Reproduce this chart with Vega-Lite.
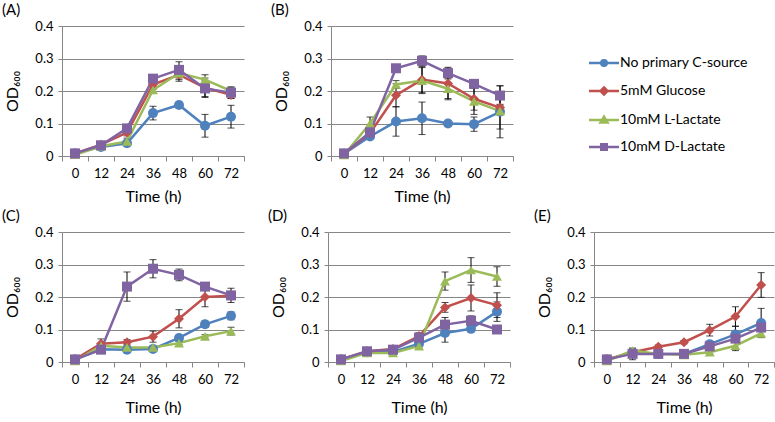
{
  "$schema": "https://vega.github.io/schema/vega-lite/v6.json",
  "padding": {"left": 2, "top": 3, "right": 0, "bottom": 0},
  "data": {"values": [
    {"p":"A","s":"No primary C-source","t":0,"v":0.008,"e":0},
    {"p":"A","s":"No primary C-source","t":12,"v":0.028,"e":0.005},
    {"p":"A","s":"No primary C-source","t":24,"v":0.039,"e":0.005},
    {"p":"A","s":"No primary C-source","t":36,"v":0.132,"e":0.021},
    {"p":"A","s":"No primary C-source","t":48,"v":0.157,"e":0.008},
    {"p":"A","s":"No primary C-source","t":60,"v":0.093,"e":0.035},
    {"p":"A","s":"No primary C-source","t":72,"v":0.121,"e":0.035},
    {"p":"A","s":"5mM Glucose","t":0,"v":0.008,"e":0},
    {"p":"A","s":"5mM Glucose","t":12,"v":0.035,"e":0.005},
    {"p":"A","s":"5mM Glucose","t":24,"v":0.072,"e":0.01},
    {"p":"A","s":"5mM Glucose","t":36,"v":0.22,"e":0.015},
    {"p":"A","s":"5mM Glucose","t":48,"v":0.25,"e":0.02},
    {"p":"A","s":"5mM Glucose","t":60,"v":0.21,"e":0.03},
    {"p":"A","s":"5mM Glucose","t":72,"v":0.188,"e":0.01},
    {"p":"A","s":"10mM L-Lactate","t":0,"v":0.004,"e":0},
    {"p":"A","s":"10mM L-Lactate","t":12,"v":0.03,"e":0.005},
    {"p":"A","s":"10mM L-Lactate","t":24,"v":0.045,"e":0.01},
    {"p":"A","s":"10mM L-Lactate","t":36,"v":0.203,"e":0.01},
    {"p":"A","s":"10mM L-Lactate","t":48,"v":0.255,"e":0.02},
    {"p":"A","s":"10mM L-Lactate","t":60,"v":0.235,"e":0.015},
    {"p":"A","s":"10mM L-Lactate","t":72,"v":0.2,"e":0.01},
    {"p":"A","s":"10mM D-Lactate","t":0,"v":0.008,"e":0},
    {"p":"A","s":"10mM D-Lactate","t":12,"v":0.033,"e":0.005},
    {"p":"A","s":"10mM D-Lactate","t":24,"v":0.085,"e":0.008},
    {"p":"A","s":"10mM D-Lactate","t":36,"v":0.238,"e":0.008},
    {"p":"A","s":"10mM D-Lactate","t":48,"v":0.265,"e":0.025},
    {"p":"A","s":"10mM D-Lactate","t":60,"v":0.208,"e":0.025},
    {"p":"A","s":"10mM D-Lactate","t":72,"v":0.195,"e":0.018},

    {"p":"B","s":"No primary C-source","t":0,"v":0.007,"e":0},
    {"p":"B","s":"No primary C-source","t":12,"v":0.06,"e":0.005},
    {"p":"B","s":"No primary C-source","t":24,"v":0.106,"e":0.045},
    {"p":"B","s":"No primary C-source","t":36,"v":0.116,"e":0.05},
    {"p":"B","s":"No primary C-source","t":48,"v":0.1,"e":0.005},
    {"p":"B","s":"No primary C-source","t":60,"v":0.098,"e":0.022},
    {"p":"B","s":"No primary C-source","t":72,"v":0.136,"e":0.08},
    {"p":"B","s":"5mM Glucose","t":0,"v":0.007,"e":0},
    {"p":"B","s":"5mM Glucose","t":12,"v":0.07,"e":0.01},
    {"p":"B","s":"5mM Glucose","t":24,"v":0.187,"e":0.035},
    {"p":"B","s":"5mM Glucose","t":36,"v":0.235,"e":0.04},
    {"p":"B","s":"5mM Glucose","t":48,"v":0.223,"e":0.05},
    {"p":"B","s":"5mM Glucose","t":60,"v":0.176,"e":0.035},
    {"p":"B","s":"5mM Glucose","t":72,"v":0.149,"e":0.01},
    {"p":"B","s":"10mM L-Lactate","t":0,"v":0.003,"e":0},
    {"p":"B","s":"10mM L-Lactate","t":12,"v":0.1,"e":0.02},
    {"p":"B","s":"10mM L-Lactate","t":24,"v":0.22,"e":0.012},
    {"p":"B","s":"10mM L-Lactate","t":36,"v":0.232,"e":0.04},
    {"p":"B","s":"10mM L-Lactate","t":48,"v":0.207,"e":0.03},
    {"p":"B","s":"10mM L-Lactate","t":60,"v":0.168,"e":0.04},
    {"p":"B","s":"10mM L-Lactate","t":72,"v":0.138,"e":0.055},
    {"p":"B","s":"10mM D-Lactate","t":0,"v":0.008,"e":0},
    {"p":"B","s":"10mM D-Lactate","t":12,"v":0.073,"e":0.005},
    {"p":"B","s":"10mM D-Lactate","t":24,"v":0.27,"e":0.005},
    {"p":"B","s":"10mM D-Lactate","t":36,"v":0.293,"e":0.015},
    {"p":"B","s":"10mM D-Lactate","t":48,"v":0.255,"e":0.015},
    {"p":"B","s":"10mM D-Lactate","t":60,"v":0.222,"e":0.01},
    {"p":"B","s":"10mM D-Lactate","t":72,"v":0.186,"e":0.03},

    {"p":"C","s":"No primary C-source","t":0,"v":0.008,"e":0},
    {"p":"C","s":"No primary C-source","t":12,"v":0.039,"e":0.003},
    {"p":"C","s":"No primary C-source","t":24,"v":0.038,"e":0.005},
    {"p":"C","s":"No primary C-source","t":36,"v":0.04,"e":0.005},
    {"p":"C","s":"No primary C-source","t":48,"v":0.074,"e":0.008},
    {"p":"C","s":"No primary C-source","t":60,"v":0.116,"e":0.01},
    {"p":"C","s":"No primary C-source","t":72,"v":0.142,"e":0.012},
    {"p":"C","s":"5mM Glucose","t":0,"v":0.008,"e":0},
    {"p":"C","s":"5mM Glucose","t":12,"v":0.056,"e":0.015},
    {"p":"C","s":"5mM Glucose","t":24,"v":0.061,"e":0.008},
    {"p":"C","s":"5mM Glucose","t":36,"v":0.078,"e":0.017},
    {"p":"C","s":"5mM Glucose","t":48,"v":0.133,"e":0.028},
    {"p":"C","s":"5mM Glucose","t":60,"v":0.2,"e":0.03},
    {"p":"C","s":"5mM Glucose","t":72,"v":0.204,"e":0.012},
    {"p":"C","s":"10mM L-Lactate","t":0,"v":0.003,"e":0},
    {"p":"C","s":"10mM L-Lactate","t":12,"v":0.05,"e":0.005},
    {"p":"C","s":"10mM L-Lactate","t":24,"v":0.045,"e":0.005},
    {"p":"C","s":"10mM L-Lactate","t":36,"v":0.045,"e":0.005},
    {"p":"C","s":"10mM L-Lactate","t":48,"v":0.058,"e":0.005},
    {"p":"C","s":"10mM L-Lactate","t":60,"v":0.079,"e":0.005},
    {"p":"C","s":"10mM L-Lactate","t":72,"v":0.095,"e":0.012},
    {"p":"C","s":"10mM D-Lactate","t":0,"v":0.008,"e":0},
    {"p":"C","s":"10mM D-Lactate","t":12,"v":0.038,"e":0.005},
    {"p":"C","s":"10mM D-Lactate","t":24,"v":0.232,"e":0.045},
    {"p":"C","s":"10mM D-Lactate","t":36,"v":0.287,"e":0.028},
    {"p":"C","s":"10mM D-Lactate","t":48,"v":0.268,"e":0.018},
    {"p":"C","s":"10mM D-Lactate","t":60,"v":0.232,"e":0.005},
    {"p":"C","s":"10mM D-Lactate","t":72,"v":0.205,"e":0.022},

    {"p":"D","s":"No primary C-source","t":0,"v":0.008,"e":0},
    {"p":"D","s":"No primary C-source","t":12,"v":0.03,"e":0.003},
    {"p":"D","s":"No primary C-source","t":24,"v":0.031,"e":0.003},
    {"p":"D","s":"No primary C-source","t":36,"v":0.056,"e":0.008},
    {"p":"D","s":"No primary C-source","t":48,"v":0.089,"e":0.028},
    {"p":"D","s":"No primary C-source","t":60,"v":0.102,"e":0.005},
    {"p":"D","s":"No primary C-source","t":72,"v":0.155,"e":0.03},
    {"p":"D","s":"5mM Glucose","t":0,"v":0.008,"e":0},
    {"p":"D","s":"5mM Glucose","t":12,"v":0.033,"e":0.003},
    {"p":"D","s":"5mM Glucose","t":24,"v":0.04,"e":0.005},
    {"p":"D","s":"5mM Glucose","t":36,"v":0.08,"e":0.01},
    {"p":"D","s":"5mM Glucose","t":48,"v":0.168,"e":0.015},
    {"p":"D","s":"5mM Glucose","t":60,"v":0.197,"e":0.04},
    {"p":"D","s":"5mM Glucose","t":72,"v":0.175,"e":0.038},
    {"p":"D","s":"10mM L-Lactate","t":0,"v":0.003,"e":0},
    {"p":"D","s":"10mM L-Lactate","t":12,"v":0.028,"e":0.003},
    {"p":"D","s":"10mM L-Lactate","t":24,"v":0.028,"e":0.003},
    {"p":"D","s":"10mM L-Lactate","t":36,"v":0.049,"e":0.01},
    {"p":"D","s":"10mM L-Lactate","t":48,"v":0.249,"e":0.028},
    {"p":"D","s":"10mM L-Lactate","t":60,"v":0.283,"e":0.038},
    {"p":"D","s":"10mM L-Lactate","t":72,"v":0.263,"e":0.03},
    {"p":"D","s":"10mM D-Lactate","t":0,"v":0.008,"e":0},
    {"p":"D","s":"10mM D-Lactate","t":12,"v":0.033,"e":0.003},
    {"p":"D","s":"10mM D-Lactate","t":24,"v":0.038,"e":0.003},
    {"p":"D","s":"10mM D-Lactate","t":36,"v":0.075,"e":0.01},
    {"p":"D","s":"10mM D-Lactate","t":48,"v":0.115,"e":0.022},
    {"p":"D","s":"10mM D-Lactate","t":60,"v":0.127,"e":0.015},
    {"p":"D","s":"10mM D-Lactate","t":72,"v":0.1,"e":0.005},

    {"p":"E","s":"No primary C-source","t":0,"v":0.008,"e":0},
    {"p":"E","s":"No primary C-source","t":12,"v":0.028,"e":0.005},
    {"p":"E","s":"No primary C-source","t":24,"v":0.025,"e":0.003},
    {"p":"E","s":"No primary C-source","t":36,"v":0.025,"e":0.003},
    {"p":"E","s":"No primary C-source","t":48,"v":0.055,"e":0.008},
    {"p":"E","s":"No primary C-source","t":60,"v":0.085,"e":0.025},
    {"p":"E","s":"No primary C-source","t":72,"v":0.12,"e":0.045},
    {"p":"E","s":"5mM Glucose","t":0,"v":0.008,"e":0},
    {"p":"E","s":"5mM Glucose","t":12,"v":0.03,"e":0.005},
    {"p":"E","s":"5mM Glucose","t":24,"v":0.047,"e":0.005},
    {"p":"E","s":"5mM Glucose","t":36,"v":0.061,"e":0.005},
    {"p":"E","s":"5mM Glucose","t":48,"v":0.098,"e":0.018},
    {"p":"E","s":"5mM Glucose","t":60,"v":0.14,"e":0.03},
    {"p":"E","s":"5mM Glucose","t":72,"v":0.237,"e":0.038},
    {"p":"E","s":"10mM L-Lactate","t":0,"v":0.003,"e":0},
    {"p":"E","s":"10mM L-Lactate","t":12,"v":0.035,"e":0.005},
    {"p":"E","s":"10mM L-Lactate","t":24,"v":0.025,"e":0.003},
    {"p":"E","s":"10mM L-Lactate","t":36,"v":0.022,"e":0.003},
    {"p":"E","s":"10mM L-Lactate","t":48,"v":0.03,"e":0.005},
    {"p":"E","s":"10mM L-Lactate","t":60,"v":0.05,"e":0.015},
    {"p":"E","s":"10mM L-Lactate","t":72,"v":0.088,"e":0.01},
    {"p":"E","s":"10mM D-Lactate","t":0,"v":0.008,"e":0},
    {"p":"E","s":"10mM D-Lactate","t":12,"v":0.025,"e":0.018},
    {"p":"E","s":"10mM D-Lactate","t":24,"v":0.025,"e":0.003},
    {"p":"E","s":"10mM D-Lactate","t":36,"v":0.025,"e":0.003},
    {"p":"E","s":"10mM D-Lactate","t":48,"v":0.048,"e":0.005},
    {"p":"E","s":"10mM D-Lactate","t":60,"v":0.072,"e":0.01},
    {"p":"E","s":"10mM D-Lactate","t":72,"v":0.106,"e":0.01}
  ]},
  "spacing": 5,
  "vconcat": [
    {
      "hconcat": [
        {
          "title": "(A)", "width": 182, "height": 130,
          "transform": [{"filter": "datum.p === 'A'"}],
          "encoding": {
            "x": {"field": "t", "type": "ordinal", "scale": {"type": "band", "paddingInner": 0, "paddingOuter": 0}, "axis": {"title": "Time (h)", "tickBand": "extent"}},
            "y": {"field": "v", "type": "quantitative", "scale": {"domain": [0, 0.4], "nice": false}, "axis": {"title": "OD₆₀₀", "values": [0, 0.1, 0.2, 0.3, 0.4], "format": "~g"}}
          },
          "layer": [
            {"transform": [{"filter": "datum.e > 0"}], "mark": {"type": "errorbar", "ticks": {"size": 7, "color": "black", "thickness": 1}, "rule": {"color": "black", "strokeWidth": 1}}, "encoding": {"yError": {"field": "e"}}},
            {"mark": {"type": "line", "strokeWidth": 2.5}, "encoding": {"color": {"field": "s", "type": "nominal", "scale": {"domain": ["No primary C-source", "5mM Glucose", "10mM L-Lactate", "10mM D-Lactate"], "range": ["#4F81BD", "#C0504D", "#9BBB59", "#8064A2"]},
              "legend": {"title": null, "orient": "none", "legendX": 535, "legendY": 30, "labelFont": "Lato", "labelFontSize": 14, "labelColor": "#000", "labelOffset": 9, "rowPadding": 11, "symbolSize": 100, "symbolStrokeWidth": 2.5,
                "encode": {"symbols": {"update": {
                  "shape": {"signal": "datum.value == 'No primary C-source' ? 'M-3,0H3M-0.55,0A0.55,0.55,0,1,0,0.55,0A0.55,0.55,0,1,0,-0.55,0Z' : datum.value == '5mM Glucose' ? 'M-3,0H3M0,-0.7L0.7,0L0,0.7L-0.7,0Z' : datum.value == '10mM L-Lactate' ? 'M-3,0H3M0,-0.65L0.7,0.5L-0.7,0.5Z' : 'M-3,0H3M-0.55,-0.55H0.55V0.55H-0.55Z'"},
                  "fill": {"scale": "color", "field": "value"},
                  "stroke": {"scale": "color", "field": "value"},
                  "strokeWidth": {"value": 2.5},
                  "opacity": {"value": 1}
                }}}}}}},
            {"mark": {"type": "point", "filled": true, "size": 100, "opacity": 1}, "encoding": {"color": {"field": "s", "type": "nominal"},
              "shape": {"field": "s", "type": "nominal", "scale": {"domain": ["10mM D-Lactate", "10mM L-Lactate", "5mM Glucose", "No primary C-source"], "range": ["square", "triangle-up", "diamond", "circle"]}, "legend": null}}}
          ]
        },
        {
          "title": "(B)", "width": 182, "height": 130,
          "transform": [{"filter": "datum.p === 'B'"}],
          "encoding": {
            "x": {"field": "t", "type": "ordinal", "scale": {"type": "band", "paddingInner": 0, "paddingOuter": 0}, "axis": {"title": "Time (h)", "tickBand": "extent"}},
            "y": {"field": "v", "type": "quantitative", "scale": {"domain": [0, 0.4], "nice": false}, "axis": {"title": "OD₆₀₀", "values": [0, 0.1, 0.2, 0.3, 0.4], "format": "~g"}}
          },
          "layer": [
            {"transform": [{"filter": "datum.e > 0"}], "mark": {"type": "errorbar", "ticks": {"size": 7, "color": "black", "thickness": 1}, "rule": {"color": "black", "strokeWidth": 1}}, "encoding": {"yError": {"field": "e"}}},
            {"mark": {"type": "line", "strokeWidth": 2.5}, "encoding": {"color": {"field": "s", "type": "nominal"}}},
            {"mark": {"type": "point", "filled": true, "size": 100, "opacity": 1}, "encoding": {"color": {"field": "s", "type": "nominal"}, "shape": {"field": "s", "type": "nominal", "legend": null}}}
          ]
        }
      ],
      "spacing": 87, "bounds": "flush"
    },
    {
      "hconcat": [
        {
          "title": "(C)", "width": 182, "height": 130,
          "transform": [{"filter": "datum.p === 'C'"}],
          "encoding": {
            "x": {"field": "t", "type": "ordinal", "scale": {"type": "band", "paddingInner": 0, "paddingOuter": 0}, "axis": {"title": "Time (h)", "tickBand": "extent", "titlePadding": 13}},
            "y": {"field": "v", "type": "quantitative", "scale": {"domain": [0, 0.4], "nice": false}, "axis": {"title": "OD₆₀₀", "values": [0, 0.1, 0.2, 0.3, 0.4], "format": "~g"}}
          },
          "layer": [
            {"transform": [{"filter": "datum.e > 0"}], "mark": {"type": "errorbar", "ticks": {"size": 7, "color": "black", "thickness": 1}, "rule": {"color": "black", "strokeWidth": 1}}, "encoding": {"yError": {"field": "e"}}},
            {"mark": {"type": "line", "strokeWidth": 2.5}, "encoding": {"color": {"field": "s", "type": "nominal"}}},
            {"mark": {"type": "point", "filled": true, "size": 100, "opacity": 1}, "encoding": {"color": {"field": "s", "type": "nominal"}, "shape": {"field": "s", "type": "nominal", "legend": null}}}
          ]
        },
        {
          "title": "(D)", "width": 182, "height": 130,
          "transform": [{"filter": "datum.p === 'D'"}],
          "encoding": {
            "x": {"field": "t", "type": "ordinal", "scale": {"type": "band", "paddingInner": 0, "paddingOuter": 0}, "axis": {"title": "Time (h)", "tickBand": "extent", "titlePadding": 13}},
            "y": {"field": "v", "type": "quantitative", "scale": {"domain": [0, 0.4], "nice": false}, "axis": {"title": "OD₆₀₀", "values": [0, 0.1, 0.2, 0.3, 0.4], "format": "~g"}}
          },
          "layer": [
            {"transform": [{"filter": "datum.e > 0"}], "mark": {"type": "errorbar", "ticks": {"size": 7, "color": "black", "thickness": 1}, "rule": {"color": "black", "strokeWidth": 1}}, "encoding": {"yError": {"field": "e"}}},
            {"mark": {"type": "line", "strokeWidth": 2.5}, "encoding": {"color": {"field": "s", "type": "nominal"}}},
            {"mark": {"type": "point", "filled": true, "size": 100, "opacity": 1}, "encoding": {"color": {"field": "s", "type": "nominal"}, "shape": {"field": "s", "type": "nominal", "legend": null}}}
          ]
        },
        {
          "title": "(E)", "width": 180, "height": 130,
          "transform": [{"filter": "datum.p === 'E'"}],
          "encoding": {
            "x": {"field": "t", "type": "ordinal", "scale": {"type": "band", "paddingInner": 0, "paddingOuter": 0}, "axis": {"title": "Time (h)", "tickBand": "extent", "titlePadding": 13}},
            "y": {"field": "v", "type": "quantitative", "scale": {"domain": [0, 0.4], "nice": false}, "axis": {"title": "OD₆₀₀", "values": [0, 0.1, 0.2, 0.3, 0.4], "format": "~g"}}
          },
          "layer": [
            {"transform": [{"filter": "datum.e > 0"}], "mark": {"type": "errorbar", "ticks": {"size": 7, "color": "black", "thickness": 1}, "rule": {"color": "black", "strokeWidth": 1}}, "encoding": {"yError": {"field": "e"}}},
            {"mark": {"type": "line", "strokeWidth": 2.5}, "encoding": {"color": {"field": "s", "type": "nominal"}}},
            {"mark": {"type": "point", "filled": true, "size": 100, "opacity": 1}, "encoding": {"color": {"field": "s", "type": "nominal"}, "shape": {"field": "s", "type": "nominal", "legend": null}}}
          ]
        }
      ],
      "spacing": 84, "bounds": "flush"
    }
  ],
  "resolve": {"scale": {"color": "shared", "shape": "shared"}},
  "config": {
    "font": "Lato",
    "view": {"stroke": null},
    "axis": {"labelFont": "Lato", "labelFontSize": 13, "labelColor": "#000", "titleFont": "Lato", "titleFontSize": 16, "titleFontWeight": "normal", "titleColor": "#000", "domainColor": "#868686", "tickColor": "#868686", "gridColor": "#868686", "domainWidth": 1, "tickWidth": 1, "gridWidth": 1},
    "axisX": {"grid": false, "tickSize": 5, "labelPadding": 6, "titlePadding": 8, "labelAngle": 0},
    "axisY": {"tickSize": 4, "labelPadding": 5, "titlePadding": 14},
    "title": {"font": "Lato", "fontSize": 15, "fontWeight": "normal", "anchor": "start", "frame": "group", "dx": -60, "offset": 2, "color": "#000"}
  }
}
